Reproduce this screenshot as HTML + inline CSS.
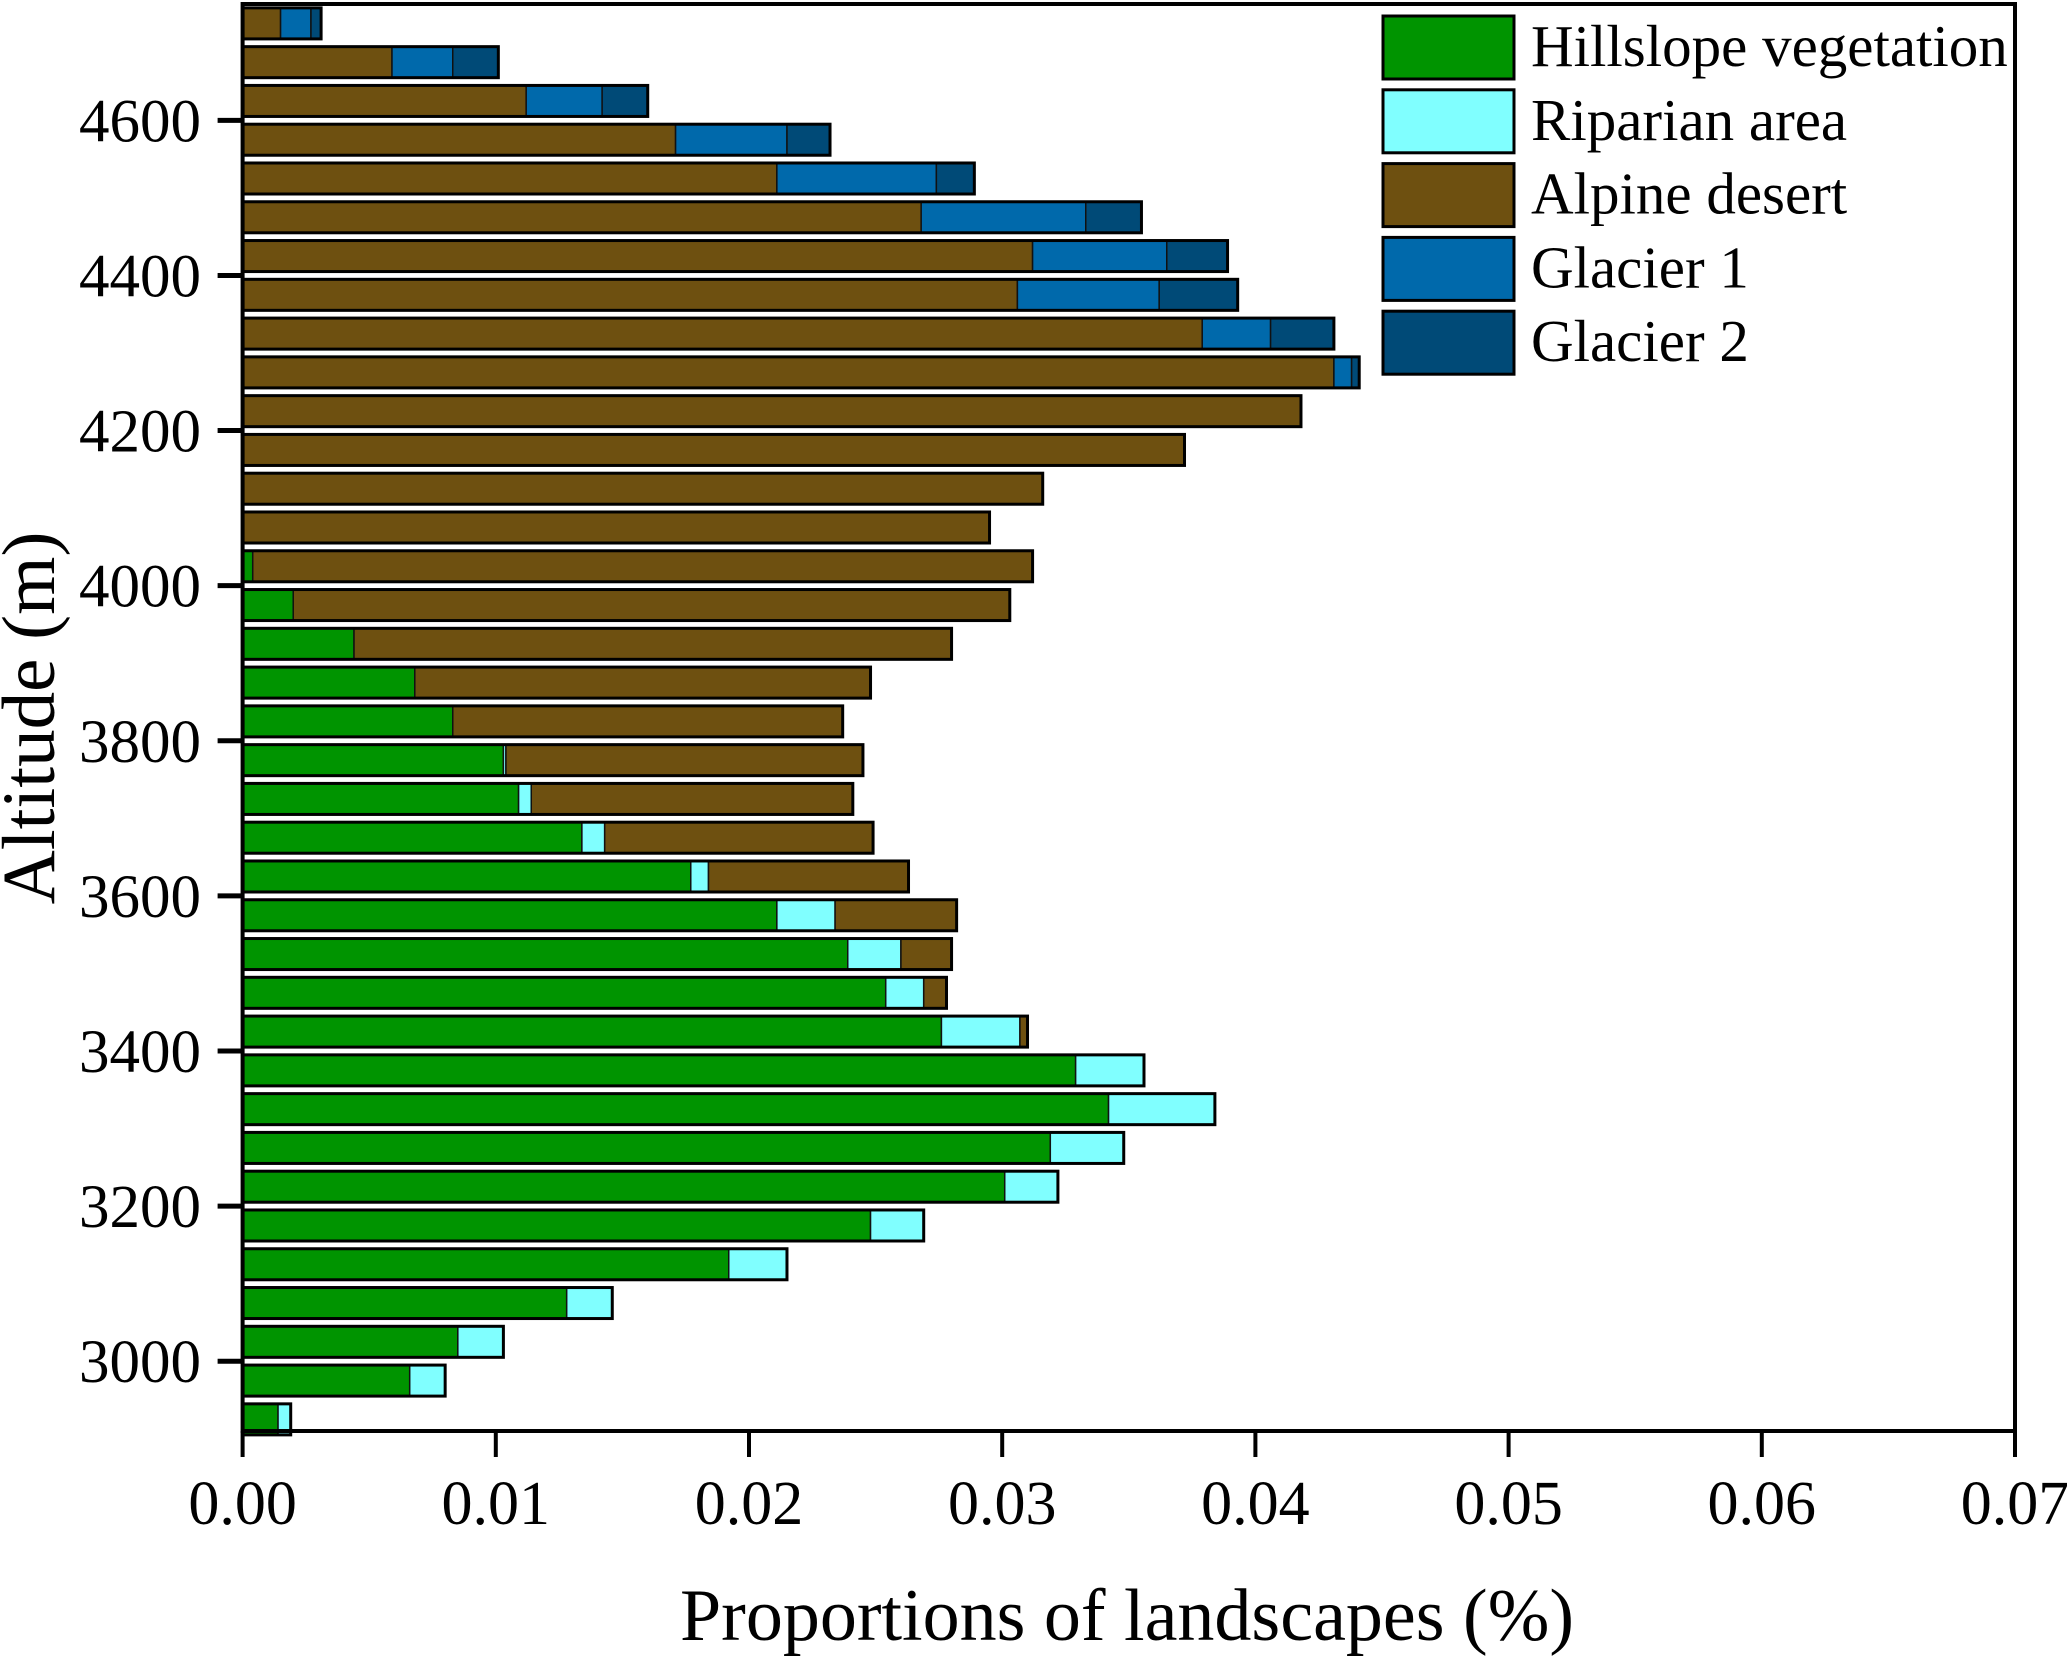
<!DOCTYPE html>
<html><head><meta charset="utf-8"><style>
html,body{margin:0;padding:0;background:#fff;}
svg{display:block;font-family:"Liberation Serif",serif;}
</style></head><body>
<svg id="chart" width="2067" height="1658" viewBox="0 0 2067 1658" xmlns="http://www.w3.org/2000/svg"></svg>
<script>
const altitudes = [2925,2975,3025,3075,3125,3175,3225,3275,3325,3375,3425,3475,3525,3575,3625,3675,3725,3775,3825,3875,3925,3975,4025,4075,4125,4175,4225,4275,4325,4375,4425,4475,4525,4575,4625,4675,4725];
const hillslope = [0.0014,0.0066,0.0085,0.0128,0.0192,0.0248,0.0301,0.0319,0.0342,0.0329,0.0276,0.0254,0.0239,0.0211,0.0177,0.0134,0.0109,0.0103,0.0083,0.0068,0.0044,0.0020,0.0004,0,0,0,0,0,0,0,0,0,0,0,0,0,0];
const riparian = [0.0005,0.0014,0.0018,0.0018,0.0023,0.0021,0.0021,0.0029,0.0042,0.0027,0.0031,0.0015,0.0021,0.0023,0.0007,0.0009,0.0005,0.0001,0,0,0,0,0,0,0,0,0,0,0,0,0,0,0,0,0,0,0];
const alpine = [0,0,0,0,0,0,0,0,0,0,0.0003,0.0009,0.0020,0.0048,0.0079,0.0106,0.0127,0.0141,0.0154,0.0180,0.0236,0.0283,0.0308,0.0295,0.0316,0.0372,0.0418,0.0431,0.0379,0.0306,0.0312,0.0268,0.0211,0.0171,0.0112,0.0059,0.0015];
const glacier1 = [0,0,0,0,0,0,0,0,0,0,0,0,0,0,0,0,0,0,0,0,0,0,0,0,0,0,0,0.0007,0.0027,0.0056,0.0053,0.0065,0.0063,0.0044,0.0030,0.0024,0.0012];
const glacier2 = [0,0,0,0,0,0,0,0,0,0,0,0,0,0,0,0,0,0,0,0,0,0,0,0,0,0,0,0.0003,0.0025,0.0031,0.0024,0.0022,0.0015,0.0017,0.0018,0.0018,0.0004];
const seriesNames = ["Hillslope vegetation","Riparian area","Alpine desert","Glacier 1","Glacier 2"];
const xTicks = [0,0.01,0.02,0.03,0.04,0.05,0.06,0.07];
const xTickLabels = ["0.00","0.01","0.02","0.03","0.04","0.05","0.06","0.07"];
const yTicks = [3000,3200,3400,3600,3800,4000,4200,4400,4600];

const colors = ["#009400","#80ffff","#6e5010","#0069ab","#004a77"];
const series = [hillslope,riparian,alpine,glacier1,glacier2];
const L=242.6,R=2015,T=4,B=1431;
const xMin=0,xMax=0.07,yMin=2910,yMax=4750;
const xs=v=>L+(v-xMin)/(xMax-xMin)*(R-L);
const ys=v=>B-(v-yMin)/(yMax-yMin)*(B-T);
const NS="http://www.w3.org/2000/svg";
const svg=document.getElementById('chart');
function mk(tag,attrs,parent){const e=document.createElementNS(NS,tag);for(const k in attrs)e.setAttribute(k,attrs[k]);(parent||svg).appendChild(e);return e;}
const barH=(ys(0)-ys(50))*0.8;
const gBars=mk('g',{});


altitudes.forEach((a,i)=>{
  let acc=0;
  const yc=ys(a);
  const g=mk('g',{},gBars);
  
  
  series.forEach((s,k)=>{
    const v=s[i]; if(!v) return;
    const r=mk('rect',{x:xs(acc),y:yc-barH/2,width:xs(acc+v)-xs(acc),height:barH,fill:colors[k],stroke:'#111',"stroke-width":1.5},g);
    
    
    acc+=v;
  });
  const o=mk('rect',{x:xs(0),y:yc-barH/2,width:xs(acc)-xs(0),height:barH,fill:'none',stroke:'#000',"stroke-width":3},g);
  
  
});
const fr=mk('rect',{x:L,y:T,width:R-L,height:B-T,fill:'none',stroke:'#000',"stroke-width":4});


xTicks.forEach((t,i)=>{
  const x=xs(t);
  const tk=mk('line',{x1:x,x2:x,y1:B,y2:B+26,stroke:'#000',"stroke-width":4});
  
  
  const tx=mk('text',{x:x,y:1524,"text-anchor":"middle","font-size":62});
  tx.textContent=xTickLabels[i];
  
  
});
yTicks.forEach(t=>{
  const y=ys(t);
  const tk=mk('line',{x1:L-25,x2:L,y1:y,y2:y,stroke:'#000',"stroke-width":5});
  
  
  const tx=mk('text',{x:201,y:y+21,"text-anchor":"end","font-size":61});
  tx.textContent=t;
  
  
});
const xt=mk('text',{x:1127,y:1640,"text-anchor":"middle","font-size":74});
xt.textContent='Proportions of landscapes (%)';


const yt=mk('text',{x:0,y:0,"text-anchor":"middle","font-size":75,transform:'translate(54,718) rotate(-90)'});
yt.textContent='Altitude (m)';


seriesNames.forEach((n,k)=>{
  const y0=16+k*73.8;
  const g=mk('g',{});
  
  
  mk('rect',{x:1383,y:y0,width:131,height:63,fill:colors[k],stroke:'#000',"stroke-width":3},g);
  const t=mk('text',{x:1531,y:y0+50,"font-size":59},g);
  t.textContent=n;
});
</script>
</body></html>
